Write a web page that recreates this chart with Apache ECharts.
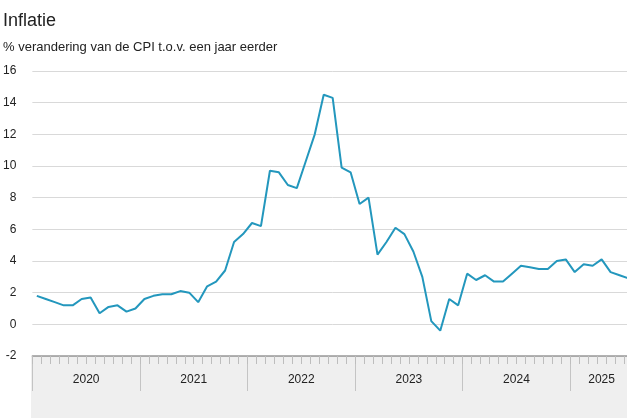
<!DOCTYPE html>
<html>
<head>
<meta charset="utf-8">
<script src="https://cdn.jsdelivr.net/npm/echarts@6/dist/echarts.min.js"></script>
<style>
html,body{margin:0;padding:0;background:#fff;overflow:hidden;width:627px;height:418px;}
#c{width:633px;height:418px;}
</style>
</head>
<body>
<div id="c"></div>
<script>
const years = [2020, 2021, 2022, 2023, 2024, 2025];
const monthsInYear = [12, 12, 12, 12, 12, 7];
const categories = [];
years.forEach((y, k) => { for (let m = 1; m <= monthsInYear[k]; m++) categories.push(y + '-' + (m < 10 ? '0' + m : m)); });

const cpi2020 = [1.8, 1.6, 1.4, 1.2, 1.2, 1.6, 1.7, 0.7, 1.1, 1.2, 0.8, 1.0];
const cpi2021 = [1.6, 1.8, 1.9, 1.9, 2.1, 2.0, 1.4, 2.4, 2.7, 3.4, 5.2, 5.7];
const cpi2022 = [6.4, 6.2, 9.7, 9.6, 8.8, 8.6, 10.3, 12.0, 14.5, 14.3, 9.9, 9.6];
const cpi2023 = [7.6, 8.0, 4.4, 5.2, 6.1, 5.7, 4.6, 3.0, 0.2, -0.4, 1.6, 1.2];
const cpi2024 = [3.2, 2.8, 3.1, 2.7, 2.7, 3.2, 3.7, 3.6, 3.5, 3.5, 4.0, 4.1];
const cpi2025 = [3.3, 3.8, 3.7, 4.1, 3.3, 3.1, 2.9];
const values = [].concat(cpi2020, cpi2021, cpi2022, cpi2023, cpi2024, cpi2025);

const yTicks = [-2, 0, 2, 4, 6, 8, 10, 12, 14, 16];

// year label positions (centre of each year's months, in month units)
const yearCenters = [];
const yearStarts = [];
let start = 0;
monthsInYear.forEach((n) => { yearStarts.push(start); yearCenters.push(start + n / 2); start += n; });

const FONT = 'Liberation Sans, Arial, sans-serif';
const chart = echarts.init(document.getElementById('c'), null, {renderer: 'canvas'});
chart.setOption({
  animation: false,
  backgroundColor: '#fff',
  title: [
    {text: 'Inflatie', left: 3, top: 12, padding: 0, textStyle: {fontFamily: FONT, fontSize: 18, fontWeight: 'normal', color: '#222'}},
    {text: '% verandering van de CPI t.o.v. een jaar eerder', left: 3, top: 41, padding: 0, textStyle: {fontFamily: FONT, fontSize: 13, fontWeight: 'normal', color: '#222'}}
  ],
  graphic: [{
    type: 'rect', z: -10, left: 31, top: 356, shape: {width: 602, height: 62}, style: {fill: '#efefef'}
  }],
  grid: {left: 31, right: 0, top: 71, bottom: 62, containLabel: false},
  xAxis: [
    {
      type: 'category', data: categories, boundaryGap: true, position: 'bottom',
      axisLine: {show: true, onZero: false, lineStyle: {color: '#999', width: 1.5}},
      axisTick: {show: true, interval: 0, length: 8, lineStyle: {color: '#bdbdbd'}},
      axisLabel: {show: false}, splitLine: {show: false}, z: 5
    },
    {
      type: 'value', min: 0, max: categories.length, position: 'bottom',
      axisLine: {show: false, onZero: false},
      axisTick: {show: true, customValues: yearStarts, length: 35, lineStyle: {color: '#c4c4c4'}},
      axisLabel: {show: true, customValues: yearCenters, margin: 18,
        formatter: (v) => { const i = yearCenters.indexOf(v); return i >= 0 ? String(years[i]) : ''; },
        fontFamily: FONT, fontSize: 12, color: '#222'},
      splitLine: {show: false}
    }
  ],
  yAxis: {
    type: 'value', min: -2, max: 16, interval: 2,
    axisLine: {show: false}, axisTick: {show: false},
    axisLabel: {margin: 16, fontFamily: FONT, fontSize: 12, color: '#222',
      formatter: (v) => yTicks.indexOf(v) >= 0 ? String(v) : ''},
    splitLine: {lineStyle: {color: '#d9d9d9', width: 1}}
  },
  series: [{
    type: 'line', data: values, xAxisIndex: 0, symbol: 'none',
    lineStyle: {color: '#2397bd', width: 2}, z: 3
  }]
});
</script>
</body>
</html>
